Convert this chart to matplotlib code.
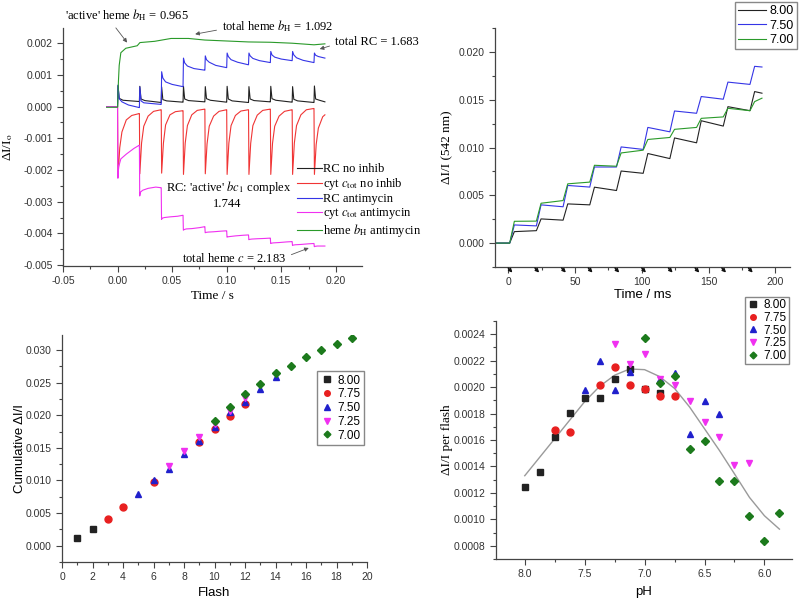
import matplotlib
matplotlib.use('Agg')
import matplotlib.pyplot as plt
from matplotlib.ticker import MultipleLocator, FormatStrFormatter

plt.rcParams['font.family'] = ['Liberation Sans', 'DejaVu Sans']
plt.rcParams['mathtext.fontset'] = 'stix'
plt.rcParams['axes.unicode_minus'] = False

SERIF = ['Liberation Serif', 'DejaVu Serif']

# ---------------- panel A: kinetic traces (s) ----------------
flashes_s = [0.00, 0.02, 0.04, 0.06, 0.08, 0.10, 0.12, 0.14, 0.16, 0.18]
trace_end = 0.19

# RC no inhib (black): values read at flash + offsets
rc_off = [0.0004, 0.0015, 0.005, 0.0198]
rc_rows = [
    [0.00066, 0.00026, 0.00020, 0.00016],
    [0.00064, 0.00024, 0.00019, 0.00013],
    [0.00062, 0.00022, 0.00018, 0.00014],
    [0.00064, 0.00024, 0.00019, 0.00015],
    [0.00063, 0.00025, 0.00020, 0.00014],
    [0.00064, 0.00024, 0.00018, 0.00013],
    [0.00063, 0.00024, 0.00019, 0.00015],
    [0.00064, 0.00025, 0.00020, 0.00014],
    [0.00063, 0.00023, 0.00018, 0.00013],
    [0.00065, 0.00024, 0.00020, 0.00015],
]
# cyt c_tot no inhib (red)
cyt_off = [0.0004, 0.002, 0.004, 0.008, 0.013, 0.0198]
cyt_rows = [
    [-0.00222, -0.00130, -0.00080, -0.00042, -0.00028, -0.00022],
    [-0.00212, -0.00115, -0.00062, -0.00030, -0.00015, -0.00010],
    [-0.00210, -0.00116, -0.00058, -0.00026, -0.00016, -0.00013],
    [-0.00214, -0.00115, -0.00060, -0.00026, -0.00012, -0.00008],
    [-0.00212, -0.00118, -0.00062, -0.00030, -0.00015, -0.00010],
    [-0.00214, -0.00115, -0.00060, -0.00028, -0.00014, -0.00010],
    [-0.00214, -0.00116, -0.00060, -0.00027, -0.00012, -0.00008],
    [-0.00214, -0.00116, -0.00062, -0.00030, -0.00015, -0.00010],
    [-0.00214, -0.00115, -0.00060, -0.00026, -0.00010, -0.00006],
    [-0.00214, -0.00120, -0.00068, -0.00032, -0.00026],
]
# RC antimycin (blue)
rca_off = [0.0004, 0.0015, 0.004, 0.010, 0.0198]
rca_rows = [
    [0.00068, 0.00025, 0.00015, 0.00005, -0.00003],
    [0.00062, 0.00018, 0.00012, 0.00010, 0.00007],
    [0.00110, 0.00090, 0.00078, 0.00070, 0.00063],
    [0.00153, 0.00138, 0.00128, 0.00120, 0.00115],
    [0.00160, 0.00148, 0.00140, 0.00130, 0.00123],
    [0.00169, 0.00158, 0.00148, 0.00140, 0.00132],
    [0.00169, 0.00160, 0.00152, 0.00145, 0.00139],
    [0.00174, 0.00163, 0.00156, 0.00150, 0.00145],
    [0.00174, 0.00163, 0.00154, 0.00146, 0.00139],
    [0.00169, 0.00162, 0.00158, 0.00153],
]
# cyt c_tot antimycin (magenta)
cyta_off = [0.0003, 0.001, 0.003, 0.008, 0.015, 0.0198]
cyta_rows = [
    [-0.00226, -0.00190, -0.00165, -0.00150, -0.00132, -0.00122],
    [-0.00282, -0.00270, -0.00264, -0.00258, -0.00254, -0.00256],
    [-0.00356, -0.00352, -0.00350, -0.00348, -0.00346, -0.00343],
    [-0.00390, -0.00388, -0.00386, -0.00385, -0.00382, -0.00379],
    [-0.00398, -0.00397, -0.00396, -0.00395, -0.00393, -0.00392],
    [-0.00412, -0.00411, -0.00410, -0.00408, -0.00406, -0.00405],
    [-0.00420, -0.00419, -0.00418, -0.00417, -0.00416, -0.00415],
    [-0.00432, -0.00431, -0.00430, -0.00429, -0.00427, -0.00426],
    [-0.00438, -0.00437, -0.00436, -0.00435, -0.00433, -0.00432],
    [-0.00442, -0.00441, -0.00440, -0.00440, -0.00440],
]
# heme b_H antimycin (green)
hem_t = [-0.010, 0.000, 0.0008, 0.0015, 0.003, 0.0075, 0.018, 0.0205, 0.034,
         0.049, 0.065, 0.080, 0.100, 0.120, 0.140, 0.160, 0.180, 0.190]
hem_v = [-0.00002, -0.00002, 0.00080, 0.00130, 0.00170, 0.00184, 0.00192, 0.00202,
         0.00206, 0.00215, 0.00215, 0.00210, 0.00207, 0.00204, 0.00203, 0.00200,
         0.00195, 0.00198]

# ---------------- panel B: 542 nm traces (ms) ----------------
flashes_ms = [0, 20, 40, 60, 80, 100, 120, 140, 160, 180]
ph800_start = [0.0012, 0.00253, 0.0041, 0.00585, 0.00754, 0.00937, 0.0110, 0.0128, 0.01427, 0.01585]
ph800_end = [0.0013, 0.0024, 0.0040, 0.0055, 0.0073, 0.00884, 0.01049, 0.01224, 0.01385, 0.01568]
ph750_start = [0.0019, 0.0040, 0.00603, 0.00796, 0.01006, 0.0121, 0.01382, 0.01533, 0.01684, 0.01849]
ph750_end = [0.0018, 0.0038, 0.00586, 0.00796, 0.0098, 0.01164, 0.01358, 0.01505, 0.0166, 0.01842]
ph700_start = [0.00228, 0.00417, 0.0062, 0.00814, 0.00943, 0.01084, 0.0119, 0.01305, 0.0141, 0.0148]
ph700_end = [0.0023, 0.00445, 0.00638, 0.00804, 0.00972, 0.01105, 0.0121, 0.0132, 0.01385, 0.01516]

# ---------------- panel C: cumulative vs flash ----------------
c_black_x = [1, 2]
c_black_y = [0.00118, 0.00256]
c_red_x = [3, 4, 6, 9, 10, 11, 12]
c_red_y = [0.00414, 0.00588, 0.0097, 0.01594, 0.01789, 0.01983, 0.02172]
c_blue_x = [5, 6, 7, 8, 9, 10, 11, 12, 13, 14]
c_blue_y = [0.00797, 0.01002, 0.0118, 0.01405, 0.0161, 0.01825, 0.02044, 0.02203, 0.02397, 0.02591]
c_mag_x = [7, 8, 9, 10, 11, 12]
c_mag_y = [0.01227, 0.01451, 0.01671, 0.0187, 0.0207, 0.02269]
c_green_x = [10, 11, 12, 13, 14, 15, 16, 17, 18, 19]
c_green_y = [0.01911, 0.02121, 0.02325, 0.02479, 0.02642, 0.0276, 0.02898, 0.0300, 0.03087, 0.03189]

# ---------------- panel D: per flash vs pH ----------------
d_black_x = [8.0, 7.875, 7.75, 7.625, 7.5, 7.375, 7.25, 7.125, 7.0, 6.875]
d_black_y = [0.001242, 0.001359, 0.001621, 0.001803, 0.001917, 0.001917, 0.002064, 0.002137, 0.001988, 0.001958]
d_red_x = [7.75, 7.625, 7.375, 7.25, 7.125, 7.0, 6.875, 6.75]
d_red_y = [0.001672, 0.001664, 0.002018, 0.002152, 0.002018, 0.001983, 0.00193, 0.00193]
d_blue_x = [7.5, 7.375, 7.25, 7.125, 6.875, 6.75, 6.625, 6.5, 6.375]
d_blue_y = [0.00198, 0.002198, 0.001975, 0.002114, 0.002064, 0.00211, 0.001642, 0.001892, 0.001798]
d_mag_x = [7.25, 7.125, 7.0, 6.875, 6.75, 6.625, 6.5, 6.375, 6.25, 6.125]
d_mag_y = [0.002324, 0.002173, 0.002253, 0.002064, 0.002013, 0.001894, 0.001735, 0.001621, 0.001414, 0.001424]
d_green_x = [7.0, 6.875, 6.75, 6.625, 6.5, 6.375, 6.25, 6.125, 6.0, 5.875]
d_green_y = [0.002372, 0.002031, 0.002082, 0.00153, 0.001591, 0.001291, 0.001291, 0.001027, 0.000838, 0.00105]
fit_x = [8.0, 7.875, 7.75, 7.625, 7.5, 7.375, 7.25, 7.125, 7.0, 6.875, 6.75,
         6.625, 6.5, 6.375, 6.25, 6.125, 6.0, 5.875]
fit_y = [0.00133, 0.00147, 0.00161, 0.00175, 0.00189, 0.002006, 0.00209, 0.002137,
         0.002132, 0.00208, 0.00199, 0.00185, 0.001685, 0.00152, 0.001344, 0.001166,
         0.001027, 0.000926]

legend_ph = ['8.00', '7.75', '7.50', '7.25', '7.00']

BLACK = '#222222'
RED = '#f03535'
BLUE = '#3535e6'
MAG = '#f030f0'
GREEN = '#2a9a2a'
DGREEN = '#1c7a1c'


def build(rows, offsets, start_level=0.0):
    t, v = [-0.010, 0.0], [start_level, start_level]
    prev = start_level
    for f, row in zip(flashes_s, rows):
        t.append(f)
        v.append(prev)
        for off, val in zip(offsets, row):
            t.append(min(f + off, trace_end))
            v.append(val)
        prev = row[-1]
    return t, v


def build_steps(starts, ends):
    t, v = [-10, 1], [0.0, 0.0]
    for i, f in enumerate(flashes_ms):
        t.append(f + 4.5)
        v.append(starts[i])
        t.append(f + 21 if i < len(flashes_ms) - 1 else 190)
        v.append(ends[i])
    return t, v


def style(ax):
    for s in ['top', 'right']:
        ax.spines[s].set_visible(False)
    for s in ['left', 'bottom']:
        ax.spines[s].set_color('#444444')
        ax.spines[s].set_linewidth(0.9)
    ax.tick_params(which='both', direction='out', color='#444444', labelcolor='#333333',
                   labelsize=7.5, width=0.8)
    ax.tick_params(which='major', length=4)
    ax.tick_params(which='minor', length=2)


fig = plt.figure(figsize=(8, 6.02), dpi=100)


def fr(px, py):
    return px / 800, 1 - py / 602


# ---- panel A ----
ax1 = fig.add_axes([63 / 800, 1 - 266 / 602, 299 / 800, 238 / 602])
for rows, off, col, lab in [
        (rc_rows, rc_off, BLACK, 'RC no inhib'),
        (cyt_rows, cyt_off, RED, r'cyt $c_{\mathrm{tot}}$ no inhib'),
        (rca_rows, rca_off, BLUE, 'RC antimycin'),
        (cyta_rows, cyta_off, MAG, r'cyt $c_{\mathrm{tot}}$ antimycin')]:
    t, v = build(rows, off)
    ax1.plot(t, v, color=col, lw=0.8, label=lab)
ax1.plot(hem_t, hem_v, color=GREEN, lw=0.8, label=r'heme $b_{\mathrm{H}}$ antimycin')
ax1.set_xlim(-0.05, 0.224)
ax1.set_ylim(-0.00503, 0.00248)
ax1.xaxis.set_major_locator(MultipleLocator(0.05))
ax1.xaxis.set_minor_locator(MultipleLocator(0.025))
ax1.yaxis.set_major_locator(MultipleLocator(0.001))
ax1.yaxis.set_minor_locator(MultipleLocator(0.0005))
ax1.xaxis.set_major_formatter(FormatStrFormatter('%.2f'))
ax1.yaxis.set_major_formatter(FormatStrFormatter('%.3f'))
style(ax1)
ax1.set_xlabel('Time / s', family=SERIF, fontsize=9.5)
ax1.set_ylabel(r'ΔI/I$_{\mathrm{o}}$', family=SERIF, fontsize=9.5)
ax1.xaxis.set_label_coords(0.5, -0.1)
ax1.yaxis.set_label_coords(-0.16, 0.5)
leg1 = ax1.legend(loc='upper left', bbox_to_anchor=fr(297, 163), bbox_transform=fig.transFigure,
                  frameon=False, prop={'family': SERIF, 'size': 9}, handlelength=2.0,
                  handletextpad=0.1, labelspacing=0.08, borderpad=0, borderaxespad=0)

ann = dict(arrowstyle='-|>', lw=0.6, color='#555555', mutation_scale=6)
ax1.annotate(r"'active' heme $b_{\mathrm{H}}$ = 0.965", xy=(0.0103, 0.00195),
             xytext=fr(65, 15), textcoords='figure fraction', va='center', ha='left',
             family=SERIF, fontsize=9, annotation_clip=False,
             arrowprops=dict(ann, relpos=(0.38, 0.0)))
ax1.annotate(r"total heme $b_{\mathrm{H}}$ = 1.092", xy=(0.0686, 0.00227),
             xytext=fr(222, 26), textcoords='figure fraction', va='center', ha='left',
             family=SERIF, fontsize=9, annotation_clip=False,
             arrowprops=dict(ann, relpos=(0.0, 0.3)))
ax1.annotate("total RC = 1.683", xy=(0.1828, 0.00179),
             xytext=fr(335, 42), textcoords='figure fraction', va='center', ha='left',
             family=SERIF, fontsize=9, annotation_clip=False,
             arrowprops=dict(ann, relpos=(0.0, 0.3)))
ax1.annotate("total heme $c$ = 2.183", xy=(0.1776, -0.00443),
             xytext=fr(182, 258), textcoords='figure fraction', va='center', ha='left',
             family=SERIF, fontsize=9, annotation_clip=False,
             arrowprops=dict(ann, relpos=(1.0, 0.6)))
fig.text(*fr(229, 188), r"RC: 'active' $bc_1$ complex", family=SERIF, fontsize=9,
         ha='center', va='center')
fig.text(*fr(227, 204), "1.744", family=SERIF, fontsize=9, ha='center', va='center')

# ---- panel B ----
ax2 = fig.add_axes([495 / 800, 1 - 267 / 602, 295 / 800, 239 / 602])
for st, en, col, lab in [(ph800_start, ph800_end, BLACK, '8.00'),
                         (ph750_start, ph750_end, BLUE, '7.50'),
                         (ph700_start, ph700_end, GREEN, '7.00')]:
    t, v = build_steps(st, en)
    ax2.plot(t, v, color=col, lw=0.8, label=lab)
ax2.set_xlim(-10, 211)
ax2.set_ylim(-0.0025, 0.0225)
ax2.xaxis.set_major_locator(MultipleLocator(50))
ax2.xaxis.set_minor_locator(MultipleLocator(25))
ax2.yaxis.set_major_locator(MultipleLocator(0.005))
ax2.yaxis.set_minor_locator(MultipleLocator(0.0025))
ax2.yaxis.set_major_formatter(FormatStrFormatter('%.3f'))
style(ax2)
ax2.set_xlabel('Time / ms', fontsize=9.5)
ax2.set_ylabel('ΔI/I (542 nm)', family=SERIF, fontsize=9.5)
ax2.xaxis.set_label_coords(0.5, -0.09)
ax2.yaxis.set_label_coords(-0.142, 0.5)
for f in flashes_ms:
    ax2.annotate('', xy=(f + 4.5, -0.032), xycoords=('data', 'axes fraction'),
                 xytext=(f - 1.5, 0.004), textcoords=('data', 'axes fraction'),
                 arrowprops=dict(arrowstyle='-|>', lw=1.0, color='#111111', mutation_scale=5),
                 annotation_clip=False)
ax2.legend(loc='upper right', bbox_to_anchor=fr(797, 2), bbox_transform=fig.transFigure,
           borderaxespad=0, fancybox=False, edgecolor='#888888', framealpha=1,
           fontsize=9, handlelength=2.2, handletextpad=0.3, labelspacing=0.2, borderpad=0.25)

# ---- panel C ----
ax3 = fig.add_axes([62 / 800, 1 - 562 / 602, 305 / 800, 227 / 602])
mk = [('s', BLACK), ('o', '#e82020'), ('^', '#2020cc'), ('v', MAG), ('D', DGREEN)]
series_c = [(c_black_x, c_black_y), (c_red_x, c_red_y), (c_blue_x, c_blue_y),
            (c_mag_x, c_mag_y), (c_green_x, c_green_y)]
for (x, y), (m, c), lab in zip(series_c, mk, legend_ph):
    ax3.plot(x, y, ls='none', marker=m, color=c, ms=5 if m != 'D' else 4.3, label=lab)
ax3.set_xlim(0, 20)
ax3.set_ylim(-0.0025, 0.0323)
ax3.xaxis.set_major_locator(MultipleLocator(2))
ax3.xaxis.set_minor_locator(MultipleLocator(1))
ax3.yaxis.set_major_locator(MultipleLocator(0.005))
ax3.yaxis.set_minor_locator(MultipleLocator(0.0025))
ax3.yaxis.set_major_formatter(FormatStrFormatter('%.3f'))
style(ax3)
ax3.set_xlabel('Flash', fontsize=9.5)
ax3.set_ylabel('Cumulative ΔI/I', fontsize=9.5)
ax3.xaxis.set_label_coords(0.5, -0.11)
ax3.yaxis.set_label_coords(-0.118, 0.5)
ax3.legend(loc='upper right', bbox_to_anchor=fr(364, 371), bbox_transform=fig.transFigure,
           borderaxespad=0, fancybox=False, edgecolor='#888888', framealpha=1,
           fontsize=8.5, handlelength=1.0, handletextpad=0.4, labelspacing=0.15,
           borderpad=0.3, markerscale=0.8)

# ---- panel D ----
ax4 = fig.add_axes([496 / 800, 1 - 559 / 602, 296 / 800, 238 / 602])
ax4.plot(fit_x, fit_y, color='#9a9a9a', lw=1.0)
series_d = [(d_black_x, d_black_y), (d_red_x, d_red_y), (d_blue_x, d_blue_y),
            (d_mag_x, d_mag_y), (d_green_x, d_green_y)]
for (x, y), (m, c), lab in zip(series_d, mk, legend_ph):
    ax4.plot(x, y, ls='none', marker=m, color=c, ms=5 if m != 'D' else 4.3, label=lab)
ax4.set_xlim(8.24, 5.77)
ax4.set_ylim(0.0007, 0.0025)
ax4.xaxis.set_major_locator(MultipleLocator(0.5))
ax4.xaxis.set_minor_locator(MultipleLocator(0.25))
ax4.yaxis.set_major_locator(MultipleLocator(0.0002))
ax4.yaxis.set_minor_locator(MultipleLocator(0.0001))
ax4.xaxis.set_major_formatter(FormatStrFormatter('%.1f'))
ax4.yaxis.set_major_formatter(FormatStrFormatter('%.4f'))
style(ax4)
ax4.set_xlabel('pH', fontsize=9.5)
ax4.set_ylabel('ΔI/I per flash', family=SERIF, fontsize=9.5)
ax4.xaxis.set_label_coords(0.5, -0.113)
ax4.yaxis.set_label_coords(-0.145, 0.5)
handles, labels = ax4.get_legend_handles_labels()
ax4.legend(handles, labels, loc='upper right', bbox_to_anchor=fr(789, 297),
           bbox_transform=fig.transFigure, borderaxespad=0, fancybox=False,
           edgecolor='#888888', framealpha=1, fontsize=8.5, handlelength=1.0,
           handletextpad=0.4, labelspacing=0.05, borderpad=0.2, markerscale=0.8)

fig.savefig('out.png', dpi=100)
